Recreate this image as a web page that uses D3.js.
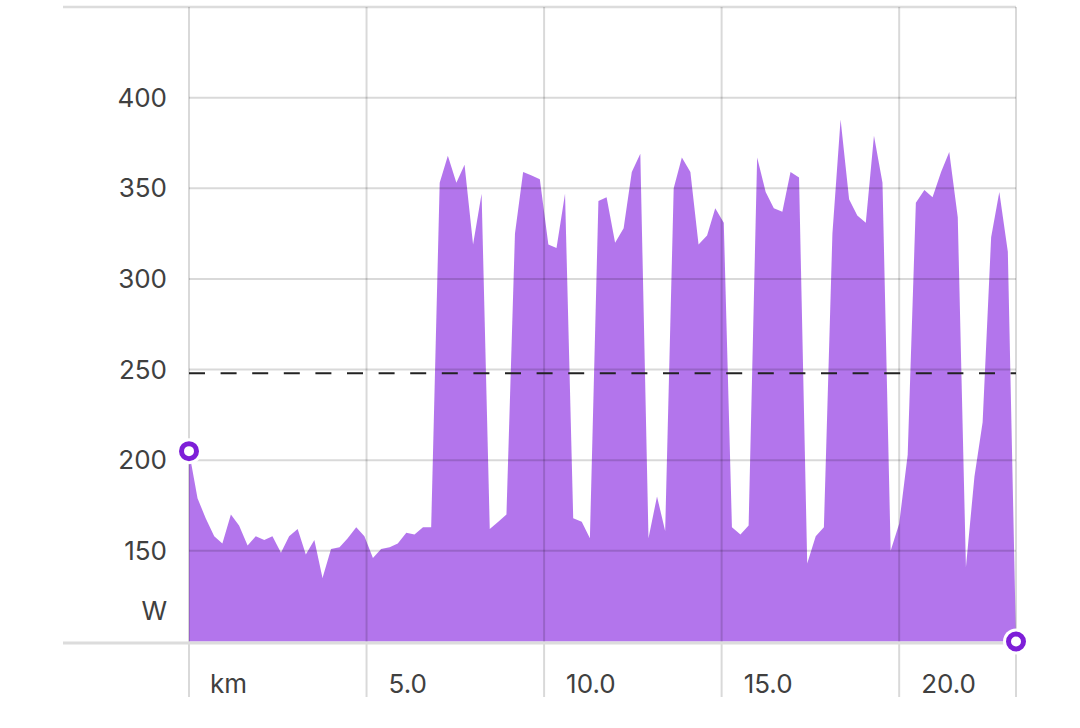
<!DOCTYPE html>
<html>
<head>
<meta charset="utf-8">
<script src="https://cdn.jsdelivr.net/npm/d3@7"></script>
<style>
  html, body { margin: 0; padding: 0; background: #ffffff; }
  svg { display: block; }
  text { font-family: Inter, "Open Sans", sans-serif; fill: #404040; }
</style>
</head>
<body>
<svg id="chart" width="1080" height="728"></svg>
<script>
// ---- data ----
const distanceKm = [0, 0.24, 0.47, 0.71, 0.94, 1.18, 1.41, 1.65, 1.88, 2.12,
  2.35, 2.59, 2.82, 3.06, 3.29, 3.53, 3.76, 4.00, 4.24, 4.47,
  4.71, 4.94, 5.18, 5.41, 5.65, 5.88, 6.12, 6.35, 6.59, 6.82,
  7.06, 7.29, 7.53, 7.76, 8.00, 8.24, 8.47, 8.71, 8.94, 9.18,
  9.41, 9.65, 9.88, 10.12, 10.35, 10.59, 10.82, 11.06, 11.29, 11.53,
  11.76, 12.00, 12.24, 12.47, 12.71, 12.94, 13.18, 13.41, 13.65, 13.88,
  14.12, 14.35, 14.59, 14.82, 15.06, 15.29, 15.53, 15.76, 16.00, 16.24,
  16.47, 16.71, 16.94, 17.18, 17.41, 17.65, 17.88, 18.12, 18.35, 18.59,
  18.82, 19.06, 19.29, 19.53, 19.76, 20.00, 20.24, 20.47, 20.71, 20.94,
  21.18, 21.41, 21.65, 21.88, 22.12, 22.35, 22.59, 22.82, 23.06, 23.29];
const powerW = [205, 179, 168, 158, 154, 170, 164, 153, 158, 156,
  158, 149, 158, 162, 148, 156, 135, 151, 152, 157,
  163, 158, 146, 151, 152, 154, 160, 159, 163, 163,
  353, 368, 353, 363, 319, 347, 162, 166, 170, 325,
  359, 357, 355, 319, 317, 347, 168, 166, 157, 343,
  345, 320, 328, 359, 369, 157, 180, 161, 350, 367,
  359, 319, 324, 339, 331, 163, 159, 164, 367, 348,
  339, 337, 359, 356, 143, 158, 163, 325, 388, 344,
  335, 331, 379, 353, 150, 165, 203, 342, 349, 345,
  359, 370, 334, 141, 191, 221, 323, 348, 315, 100];
const yTicks = [150, 200, 250, 300, 350, 400];
const xTicks = [5, 10, 15, 20];
const xTickLabels = ["5.0", "10.0", "15.0", "20.0"];
const thresholdW = 248;
const yUnit = "W";
const xUnit = "km";
const yDomain = [100, 450];

(function () {
  const svg = d3.select("#chart");
  const pLeft = 189, pRight = 1016, pTop = 7, pBottom = 641.5;
  const x = d3.scaleLinear().domain([0, d3.max(distanceKm)]).range([pLeft, pRight]);
  const y = d3.scaleLinear().domain(yDomain).range([pBottom, pTop]);
  const data = distanceKm.map((d, i) => ({ km: d, w: powerW[i] }));

  // top frame line
  svg.append("line").attr("x1", 63).attr("x2", pRight).attr("y1", y(yDomain[1])).attr("y2", y(yDomain[1]))
    .attr("stroke", "#dcdcdc").attr("stroke-width", 2.5);

  // area
  const area = d3.area().x(d => x(d.km)).y0(y(yDomain[0])).y1(d => y(d.w)).curve(d3.curveLinear);
  svg.append("path").datum(data).attr("d", area).attr("fill", "#8a2be2").attr("fill-opacity", 0.65);

  // horizontal gridlines
  svg.append("g").selectAll("line").data(yTicks).join("line")
    .attr("x1", pLeft).attr("x2", pRight)
    .attr("y1", d => y(d)).attr("y2", d => y(d))
    .attr("stroke", "#000").attr("stroke-opacity", 0.15).attr("stroke-width", 2);

  // vertical gridlines (origin, ticks, right edge)
  const vLines = [0].concat(xTicks, [d3.max(distanceKm)]);
  svg.append("g").selectAll("line").data(vLines).join("line")
    .attr("x1", d => x(d)).attr("x2", d => x(d))
    .attr("y1", y(yDomain[1])).attr("y2", 697)
    .attr("stroke", "#000").attr("stroke-opacity", 0.15).attr("stroke-width", 2);

  // bottom axis line
  svg.append("line").attr("x1", 63).attr("x2", pRight).attr("y1", pBottom + 1.5).attr("y2", pBottom + 1.5)
    .attr("stroke", "#dcdcdc").attr("stroke-width", 3);

  // threshold dashed line
  svg.append("line").attr("x1", pLeft).attr("x2", pRight)
    .attr("y1", y(thresholdW)).attr("y2", y(thresholdW))
    .attr("stroke", "#222").attr("stroke-width", 2).attr("stroke-dasharray", "16,15.6");

  // y labels
  svg.append("g").selectAll("text").data(yTicks).join("text")
    .attr("x", 167).attr("y", d => y(d)).attr("dy", "0.35em")
    .attr("text-anchor", "end").attr("font-size", 26).text(d => d);
  svg.append("text").attr("x", 167).attr("y", y(yDomain[0]) - 31).attr("dy", "0.35em")
    .attr("text-anchor", "end").attr("font-size", 26).text(yUnit);

  // x labels
  svg.append("g").selectAll("text").data(xTicks).join("text")
    .attr("x", d => x(d) + 22).attr("y", 684).attr("dy", "0.35em")
    .attr("font-size", 26).text((d, i) => xTickLabels[i]);
  svg.append("text").attr("x", x(0) + 21).attr("y", 684).attr("dy", "0.35em")
    .attr("font-size", 26).text(xUnit);

  // end markers
  const ends = [data[0], data[data.length - 1]];
  const mk = svg.append("g").selectAll("g").data(ends).join("g")
    .attr("transform", d => `translate(${x(d.km)},${y(d.w)})`);
  mk.append("circle").attr("r", 13).attr("fill", "#fff");
  mk.append("circle").attr("r", 7.5).attr("fill", "#fff").attr("stroke", "#7e1fd8").attr("stroke-width", 5);
})();
</script>
</body>
</html>
